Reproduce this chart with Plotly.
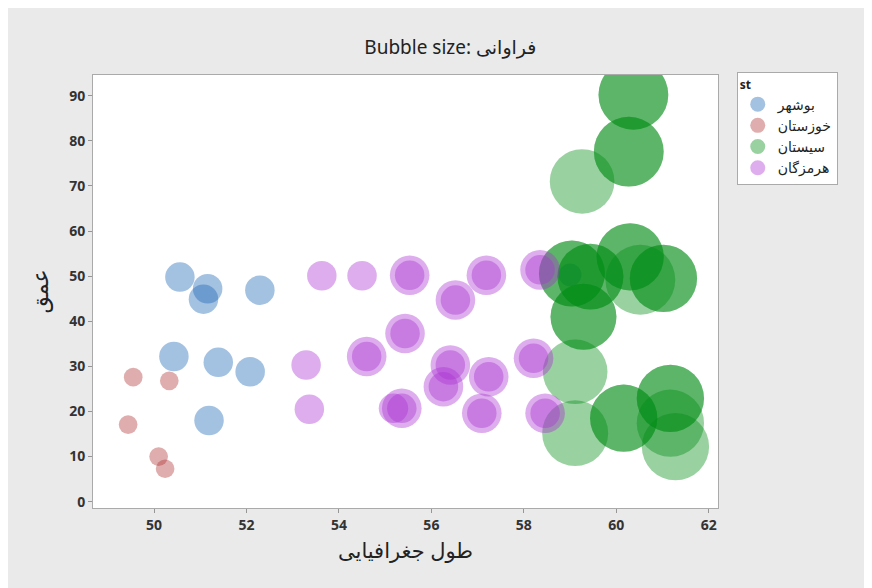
import plotly.graph_objects as go

# ---- data (longitude, depth, frequency); repeated rows are stacked observations ----
groups = ["بوشهر", "خوزستان", "سیستان", "هرمزگان"]

bushehr_lon = [50.56, 51.16, 51.07, 52.29, 50.43, 51.39, 52.08, 51.19, 59.00]
bushehr_depth = [49.8, 47.2, 44.9, 46.9, 32.2, 30.9, 28.8, 18.0, 50.3]
bushehr_freq = [5, 5, 5, 5, 5, 5, 5, 5, 3]

khuzestan_lon = [49.55, 50.33, 49.44, 50.10, 50.24]
khuzestan_depth = [27.6, 26.8, 17.1, 10.0, 7.3]
khuzestan_freq = [2, 2, 2, 2, 2]

sistan_lon = [60.37, 60.37, 60.27, 60.27, 59.26, 60.30, 60.30, 61.02, 61.02,
              60.52, 59.04, 59.04, 59.44, 59.44, 59.29, 59.29, 59.11, 59.11,
              60.16, 60.16, 61.17, 61.17, 61.17, 61.28]
sistan_depth = [90.2, 90.2, 77.6, 77.6, 71.0, 54.3, 54.3, 49.5, 49.5,
                49.2, 50.6, 50.6, 49.9, 49.9, 41.0, 41.0, 28.8, 15.2,
                18.5, 18.5, 22.9, 22.9, 17.4, 12.2]
sistan_freq = [28, 28, 28, 28, 24, 26, 26, 26, 26,
               28, 25, 25, 25, 25, 25, 25, 24, 25,
               26, 26, 26, 26, 26, 26]

hormozgan_lon = [53.63, 54.50, 53.29, 53.36, 55.18,
                 55.53, 55.53, 57.19, 57.19, 58.35, 58.35, 56.52, 56.52,
                 55.43, 55.43, 54.60, 54.60, 56.41, 56.41, 56.26, 56.26,
                 57.24, 57.24, 58.21, 58.21, 55.36, 55.36, 57.09, 57.09,
                 58.46, 58.46]
hormozgan_depth = [50.1, 50.1, 30.3, 20.5, 20.7,
                   50.2, 50.2, 50.2, 50.2, 51.4, 51.4, 44.7, 44.7,
                   37.3, 37.3, 32.2, 32.2, 30.3, 30.3, 25.5, 25.5,
                   27.7, 27.7, 31.8, 31.8, 20.7, 20.7, 19.6, 19.6,
                   19.6, 19.6]
hormozgan_freq = [5, 5, 5, 5, 5,
                  9, 5, 9, 5, 9, 5, 9, 5,
                  9, 5, 9, 5, 9, 5, 9, 5,
                  9, 5, 9, 5, 9, 5, 9, 5,
                  9, 5]

x_ticks = [50, 52, 54, 56, 58, 60, 62]
y_ticks = [0, 10, 20, 30, 40, 50, 60, 70, 80, 90]

series = [
    (groups[0], bushehr_lon, bushehr_depth, bushehr_freq, "rgb(25,100,180)"),
    (groups[1], khuzestan_lon, khuzestan_depth, khuzestan_freq, "rgb(175,50,50)"),
    (groups[2], sistan_lon, sistan_depth, sistan_freq, "rgb(0,140,20)"),
    (groups[3], hormozgan_lon, hormozgan_depth, hormozgan_freq, "rgb(170,50,210)"),
]

OPA = 0.4
fig = go.Figure()
for name, xs, ys, fs, col in series:
    fig.add_trace(go.Scatter(
        x=xs, y=ys, mode="markers", name=name, legendgroup=name, showlegend=False,
        marker=dict(size=fs, sizemode="area", sizeref=2 / 174.0,
                    color=col, opacity=OPA, line=dict(width=0)),
    ))
# legend entries (fixed-size symbols like the reference legend)
for name, xs, ys, fs, col in series:
    fig.add_trace(go.Scatter(
        x=[None], y=[None], mode="markers", name=name, legendgroup=name,
        marker=dict(size=15, color=col, opacity=OPA, line=dict(width=0)),
    ))

font_main = "Noto Sans, DejaVu Sans, sans-serif"
fig.update_layout(
    width=864, height=580,
    paper_bgcolor="rgb(234,234,234)",
    plot_bgcolor="white",
    margin=dict(l=85, r=154, t=67, b=80),
    font=dict(family=font_main, size=12, color="#222"),
    title=dict(text="Bubble size: فراوانی", x=0.512, xanchor="center",
               y=0.933, yanchor="middle",
               font=dict(size=19, color="#222", family=font_main)),
    showlegend=True,
    legend=dict(
        title=dict(text="<b>st</b>", font=dict(size=12)),
        x=1.03, xanchor="left", y=1.007, yanchor="top",
        bgcolor="white", bordercolor="rgb(170,170,170)", borderwidth=1,
        font=dict(size=14, color="#222"),
        tracegroupgap=0,
    ),
)
fig.update_xaxes(
    range=[48.68, 62.2], tickvals=x_ticks, ticks="outside", ticklen=4,
    tickcolor="rgb(150,150,150)", showgrid=False, zeroline=False,
    showline=True, linecolor="rgb(170,170,170)", mirror=True,
    tickfont=dict(size=14, color="#333", weight="bold"),
    title=dict(text="طول جغرافیایی", font=dict(size=21, color="#222"), standoff=10),
)
fig.update_yaxes(
    range=[-1.4, 94.6], tickvals=y_ticks, ticks="outside", ticklen=4,
    tickcolor="rgb(150,150,150)", showgrid=False, zeroline=False,
    showline=True, linecolor="rgb(170,170,170)", mirror=True,
    tickfont=dict(size=14, color="#333", weight="bold"),
    title=dict(text="عمق", font=dict(size=22, color="#222"), standoff=14),
)

fig.write_html("out.html")
